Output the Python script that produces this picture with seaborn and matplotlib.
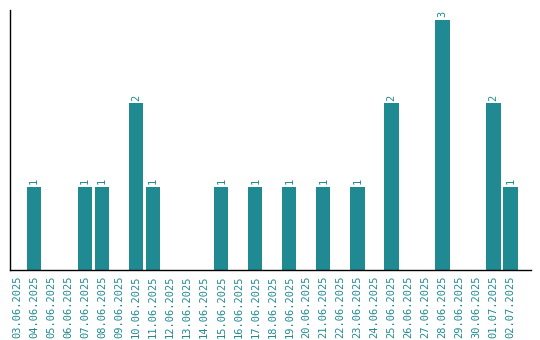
import matplotlib
matplotlib.use("Agg")
import matplotlib.pyplot as plt
import seaborn as sns
import pandas as pd

dates = ["03.06.2025", "04.06.2025", "05.06.2025", "06.06.2025", "07.06.2025",
         "08.06.2025", "09.06.2025", "10.06.2025", "11.06.2025", "12.06.2025",
         "13.06.2025", "14.06.2025", "15.06.2025", "16.06.2025", "17.06.2025",
         "18.06.2025", "19.06.2025", "20.06.2025", "21.06.2025", "22.06.2025",
         "23.06.2025", "24.06.2025", "25.06.2025", "26.06.2025", "27.06.2025",
         "28.06.2025", "29.06.2025", "30.06.2025", "01.07.2025", "02.07.2025"]
counts = [0, 1, 0, 0, 1, 1, 0, 2, 1, 0,
          0, 0, 1, 0, 1, 0, 1, 0, 1, 0,
          1, 0, 2, 0, 0, 3, 0, 0, 2, 1]

teal = "#1f8a91"
sns.set_style("white")
plt.rcParams["font.family"] = ["DejaVu Sans Mono", "DejaVu Sans"]

df = pd.DataFrame({"date": dates, "count": counts})

fig = plt.figure(figsize=(5.4, 3.4), dpi=100)
ax = fig.add_axes([10 / 540, 70 / 340, 521 / 540, 260 / 340])
sns.barplot(data=df, x="date", y="count", color=teal, saturation=1, ax=ax)

# make bars wider, as in the original
bw = 0.84
for i, p in enumerate(ax.patches):
    p.set_width(bw)
    p.set_x(i - bw / 2)
    p.set_linewidth(0)

# labels only on non-zero bars
for i, v in enumerate(counts):
    if v > 0:
        ax.annotate(str(v), (i, v), xytext=(0, 2),
                    textcoords="offset points", ha="center", va="bottom",
                    rotation=90, fontsize=7.5, color=teal)

ax.set_xlim(-0.41, 30.2)
ax.set_ylim(0, 3.12)
ax.set_xlabel("")
ax.set_ylabel("")
ax.set_yticks([])
ax.tick_params(axis="x", length=0, pad=4, labelsize=7.5, labelcolor=teal, rotation=90)
for s in ["top", "right"]:
    ax.spines[s].set_visible(False)
for s in ["left", "bottom"]:
    ax.spines[s].set_color("black")
    ax.spines[s].set_linewidth(1.0)

fig.savefig("out.png", dpi=100)
